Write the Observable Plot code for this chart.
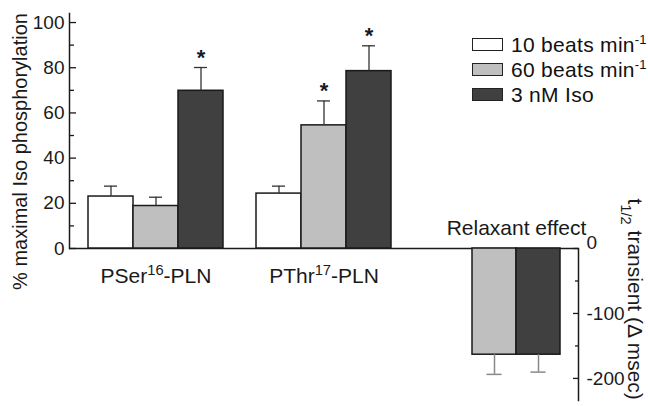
<!DOCTYPE html>
<html><head><meta charset="utf-8">
<script src="https://cdn.jsdelivr.net/npm/d3@7"></script>
<script src="https://cdn.jsdelivr.net/npm/@observablehq/plot@0.6"></script>
<style>
body{margin:0;background:#fff;}
#chart{position:relative;width:648px;height:406px;overflow:hidden;font-family:"Liberation Sans",Arial,sans-serif;background:#fff;}
#chart svg{position:absolute;left:0;top:0;}
.legend{position:absolute;left:472px;top:32px;font-size:21px;letter-spacing:0.3px;color:#111;}
.legend .row{display:flex;align-items:center;height:25px;white-space:nowrap;}
.legend .sw{width:29px;height:11px;border:1.5px solid #222;margin-right:8px;box-sizing:content-box;}
.legend sup{font-size:13px;vertical-align:0;position:relative;top:-8px;letter-spacing:0;}
</style></head><body><div id="chart"></div><script>
// ---- data ----
const groups = ["PSer^{16}-PLN", "PThr^{17}-PLN"];
const series = ["10 beats min^{-1}", "60 beats min^{-1}", "3 nM Iso"];
const seriesColors = ["#ffffff", "#bfbfbf", "#404040"];
const pserValues = [23.0, 18.8, 69.8];
const pserErrors = [4.6, 3.9, 10.3];
const pserSig = [false, false, true];
const pthrValues = [24.3, 54.5, 78.5];
const pthrErrors = [3.3, 10.8, 11.2];
const pthrSig = [false, true, true];
const relaxSeries = ["60 beats min^{-1}", "3 nM Iso"];
const relaxValues = [-163.5, -163.5];
const relaxErrors = [30.3, 26.8];
const leftTicks = [0, 20, 40, 60, 80, 100];
const leftMinor = [10, 30, 50, 70, 90];
const rightTicks = [0, -100, -200];
const rightMinor = [-50, -150];
const yLabel = "% maximal Iso phosphorylation";
const rightLabel = "t_{1/2} transient (Δ msec)";
const relaxTitle = "Relaxant effect";

// ---- tables ----
const phos = [
  ...series.map((s, i) => ({group: groups[0], series: s, value: pserValues[i], top: pserValues[i] + pserErrors[i], sig: pserSig[i]})),
  ...series.map((s, i) => ({group: groups[1], series: s, value: pthrValues[i], top: pthrValues[i] + pthrErrors[i], sig: pthrSig[i]}))
];
const relax = relaxSeries.map((s, i) => ({series: s, value: relaxValues[i], bottom: relaxValues[i] - relaxErrors[i]}));

const W = 648, H = 406, yTop = 104;
const font = '"Liberation Sans", Arial, sans-serif';
const baseStyle = {fontFamily: font, background: "transparent", overflow: "visible"};
const ink = "#1a1a1a";

const plotA = Plot.plot({
  width: W, height: H, marginLeft: 69, marginRight: 70, marginTop: 13, marginBottom: 158,
  y: {domain: [0, yTop]},
  style: baseStyle,
  marks: [
    Plot.frame({anchor: "left", stroke: ink, strokeWidth: 1.5}),
    Plot.ruleY([0], {stroke: ink, strokeWidth: 1.5}),
    Plot.axisY({ticks: leftTicks, anchor: "right", frameAnchor: "left", tickSize: 6, fill: "none", label: null, stroke: ink, strokeWidth: 1.3}),
    Plot.axisY({ticks: leftMinor, anchor: "right", frameAnchor: "left", tickSize: 4, fill: "none", label: null, stroke: ink, strokeWidth: 1.3}),
    Plot.axisY({ticks: leftTicks, anchor: "left", tickSize: 0, tickPadding: 5, fontSize: 19, fill: ink, label: null, tickFormat: d => String(d)}),
    Plot.text([yLabel], {text: d => d, frameAnchor: "left", textAnchor: "middle", lineAnchor: "middle", rotate: -90, dx: -49, dy: 20.5, fontSize: 20, fill: ink})
  ]
});

const plotB = Plot.plot({
  width: W, height: H, marginLeft: 87, marginRight: 256, marginTop: 13, marginBottom: 158,
  y: {domain: [0, yTop], axis: null},
  x: {domain: series, padding: 0, axis: null},
  fx: {domain: groups, paddingInner: 0.195, paddingOuter: 0},
  color: {domain: series, range: seriesColors},
  style: baseStyle,
  marks: [
    Plot.axisFx({anchor: "bottom", tickSize: 0, tickPadding: 20, fontSize: 21, label: null, fill: ink}),
    Plot.barY(phos, {fx: "group", x: "series", y: "value", fill: "series", stroke: ink, strokeWidth: 1.5}),
    Plot.ruleX(phos, {fx: "group", x: "series", y1: "value", y2: "top", stroke: "#333", strokeWidth: 1.3}),
    Plot.tickY(phos, {fx: "group", x: "series", y: "top", stroke: "#333", strokeWidth: 1.3, insetLeft: 16, insetRight: 16}),
    Plot.text(phos.filter(d => d.sig), {fx: "group", x: "series", y: "top", text: () => "*", lineAnchor: "bottom", dy: -3, fontSize: 22, fontWeight: "bold", fill: ink})
  ]
});

const plotC = Plot.plot({
  width: W, height: H, marginLeft: 472, marginRight: 70, marginTop: 248, marginBottom: 6,
  y: {domain: [-234, 0]},
  x: {domain: relaxSeries, paddingInner: 0, paddingOuter: 0.178, align: 0, axis: null},
  color: {domain: series, range: seriesColors},
  style: baseStyle,
  marks: [
    Plot.frame({anchor: "right", stroke: ink, strokeWidth: 1.5}),
    Plot.axisY({ticks: rightTicks, anchor: "left", frameAnchor: "right", tickSize: 5, fill: "none", label: null, stroke: ink, strokeWidth: 1.3}),
    Plot.axisY({ticks: rightMinor, anchor: "left", frameAnchor: "right", tickSize: 3, fill: "none", label: null, stroke: ink, strokeWidth: 1.3}),
    Plot.axisY({ticks: rightTicks.filter(d => d !== 0), anchor: "right", tickSize: 0, tickPadding: 8, fontSize: 19, fill: ink, label: null, tickFormat: d => String(d)}),
    Plot.axisY({ticks: rightTicks.filter(d => d === 0), anchor: "right", tickSize: 0, tickPadding: 8, dy: -6, fontSize: 19, fill: ink, label: null, tickFormat: d => String(d)}),
    Plot.barY(relax, {x: "series", y: "value", fill: "series", stroke: ink, strokeWidth: 1.5}),
    Plot.ruleX(relax, {x: "series", y1: "value", y2: "bottom", stroke: "#888", strokeWidth: 1.5}),
    Plot.tickY(relax, {x: "series", y: "bottom", stroke: "#888", strokeWidth: 1.5, insetLeft: 14.5, insetRight: 14.5}),
    Plot.text([relaxTitle], {text: d => d, frameAnchor: "top", dx: -9, dy: -14, lineAnchor: "bottom", fontSize: 21, fill: ink}),
    Plot.text([rightLabel], {text: d => d, frameAnchor: "top-right", rotate: 90, textAnchor: "start", lineAnchor: "middle", dx: 56, dy: -50, fontSize: 21, fill: ink})
  ]
});

const chart = document.getElementById("chart");
[plotA, plotB, plotC].forEach(p => chart.appendChild(p));

// rich text: ^{..} superscript, _{..} subscript
function richText(root) {
  const ns = "http://www.w3.org/2000/svg";
  root.querySelectorAll("text").forEach(el => {
    const s = el.textContent;
    if (!/[\^_]\{/.test(s)) return;
    const fs = parseFloat(getComputedStyle(el).fontSize) || 20;
    while (el.firstChild) el.removeChild(el.firstChild);
    const re = /([\^_])\{([^}]*)\}/g;
    let last = 0, m, shift = 0;
    const add = (txt, dy, size) => {
      const t = document.createElementNS(ns, "tspan");
      if (dy) t.setAttribute("dy", dy);
      if (size) t.setAttribute("font-size", size);
      t.textContent = txt;
      el.appendChild(t);
    };
    while ((m = re.exec(s))) {
      if (m.index > last) { add(s.slice(last, m.index), -shift); shift = 0; }
      const d = m[1] === "^" ? -0.4 * fs : 0.3 * fs;
      add(m[2], d - shift, 0.7 * fs);
      shift = d;
      last = re.lastIndex;
    }
    if (last < s.length) add(s.slice(last), -shift);
  });
}
chart.querySelectorAll("svg").forEach(richText);

// legend
const legend = document.createElement("div");
legend.className = "legend";
series.forEach((s, i) => {
  const row = document.createElement("div");
  row.className = "row";
  const sw = document.createElement("div");
  sw.className = "sw";
  sw.style.background = seriesColors[i];
  const lab = document.createElement("span");
  lab.innerHTML = s.replace(/\^\{([^}]*)\}/g, "<sup>$1</sup>");
  row.appendChild(sw); row.appendChild(lab);
  legend.appendChild(row);
});
chart.appendChild(legend);
</script></body></html>
